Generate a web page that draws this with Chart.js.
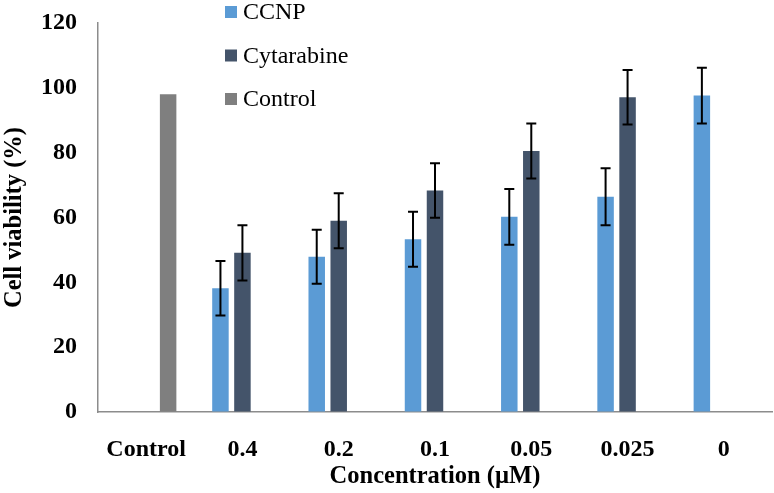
<!DOCTYPE html>
<html>
<head>
<meta charset="utf-8">
<script src="https://cdn.jsdelivr.net/npm/chart.js@4"></script>
<style>
  html, body { margin: 0; padding: 0; background: #ffffff; }
  #wrap { width: 774px; height: 493px; }
</style>
</head>
<body>
<div id="wrap"><canvas id="c" width="774" height="493"></canvas></div>
<script>
const categories = ["Control", "0.4", "0.2", "0.1", "0.05", "0.025", "0"];
const seriesNames = ["CCNP", "Cytarabine", "Control"];
const ccnpValues = [null, 38.2, 47.9, 53.3, 60.2, 66.4, 97.6];
const ccnpErrors = [null, 8.4, 8.3, 8.5, 8.6, 8.8, 8.6];
const cytarabineValues = [null, 49.1, 59.0, 68.3, 80.5, 97.1, null];
const cytarabineErrors = [null, 8.5, 8.5, 8.4, 8.5, 8.4, null];
const controlValues = [98.0, null, null, null, null, null, null];
const controlErrors = [null, null, null, null, null, null, null];
const yTicks = [0, 20, 40, 60, 80, 100, 120];

const colors = ["#5B9BD5", "#44546A", "#7F7F7F"];
const serif = '"Liberation Serif", "Times New Roman", serif';

const errorBarPlugin = {
  id: 'errorBars',
  afterDatasetsDraw(chart) {
    const ctx = chart.ctx;
    const y = chart.scales.y;
    ctx.save();
    ctx.strokeStyle = '#000000';
    ctx.lineWidth = 2;
    chart.data.datasets.forEach((ds, i) => {
      const meta = chart.getDatasetMeta(i);
      if (!ds.errors) return;
      meta.data.forEach((el, j) => {
        const v = ds.data[j], e = ds.errors[j];
        if (v == null || e == null) return;
        const x = el.x;
        const yt = y.getPixelForValue(v + e);
        const yb = y.getPixelForValue(v - e);
        const cap = 5;
        ctx.beginPath();
        ctx.moveTo(x, yt); ctx.lineTo(x, yb);
        ctx.moveTo(x - cap, yt); ctx.lineTo(x + cap, yt);
        ctx.moveTo(x - cap, yb); ctx.lineTo(x + cap, yb);
        ctx.stroke();
      });
    });
    ctx.restore();
  }
};

const legendPlugin = {
  id: 'sideLegend',
  afterDraw(chart) {
    const ctx = chart.ctx;
    ctx.save();
    ctx.font = '24px ' + serif;
    ctx.textBaseline = 'middle';
    ctx.textAlign = 'left';
    chart.data.datasets.forEach((ds, i) => {
      const cy = 12 + i * 43.5;
      ctx.fillStyle = ds.backgroundColor;
      ctx.fillRect(225, cy - 6, 12, 12);
      ctx.fillStyle = '#000000';
      ctx.fillText(ds.label, 243, cy + 1);
    });
    ctx.restore();
  }
};

const valueSets = [ccnpValues, cytarabineValues, controlValues];
const errorSets = [ccnpErrors, cytarabineErrors, controlErrors];

new Chart(document.getElementById('c'), {
  type: 'bar',
  data: {
    labels: categories,
    datasets: seriesNames.map((name, i) => ({
      label: name,
      data: valueSets[i],
      errors: errorSets[i],
      backgroundColor: colors[i],
      borderWidth: 0,
      categoryPercentage: 0.685,
      barPercentage: 0.75
    }))
  },
  options: {
    responsive: false,
    animation: false,
    devicePixelRatio: 1,
    layout: { padding: { top: 23, right: 2, left: 0, bottom: 0 } },
    plugins: {
      legend: { display: false },
      tooltip: { enabled: false }
    },
    scales: {
      x: {
        grid: { display: false, drawTicks: false },
        border: { display: true, color: '#8c8c8c', width: 1.5 },
        ticks: {
          color: '#000000',
          font: { family: serif, size: 24, weight: 'bold' },
          padding: 23,
          maxRotation: 0
        },
        title: {
          display: true,
          text: 'Concentration (µM)',
          color: '#000000',
          font: { family: serif, size: 24.5, weight: 'bold' },
          padding: { top: 0, bottom: 2 }
        },
        afterFit(scale) { scale.height = 81; }
      },
      y: {
        min: 0,
        max: 120,
        afterBuildTicks(scale) { scale.ticks = yTicks.map(v => ({ value: v })); },
        grid: {
          display: true,
          drawOnChartArea: false,
          drawTicks: true,
          tickLength: 21,
          tickColor: 'rgba(0,0,0,0)',
          color: 'rgba(0,0,0,0)'
        },
        border: { display: true, color: '#8c8c8c', width: 1.5 },
        ticks: {
          color: '#000000',
          font: { family: serif, size: 24, weight: 'bold' },
          padding: 0
        },
        title: {
          display: true,
          text: 'Cell viability (%)',
          color: '#000000',
          font: { family: serif, size: 24.5, weight: 'bold' },
          padding: { top: 0, bottom: 0 }
        },
        afterFit(scale) { scale.width = 98; }
      }
    }
  },
  plugins: [errorBarPlugin, legendPlugin]
});
</script>
</body>
</html>
